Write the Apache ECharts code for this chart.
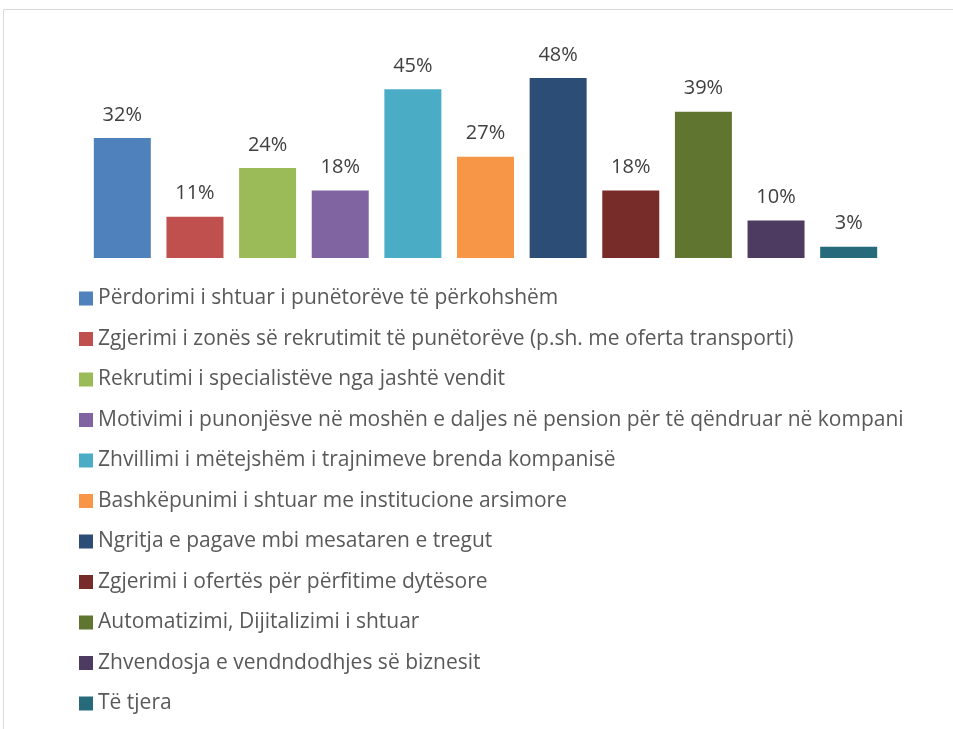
<!DOCTYPE html>
<html>
<head>
<meta charset="utf-8">
<script src="https://cdn.jsdelivr.net/npm/echarts@6/dist/echarts.min.js"></script>
<style>
  html, body { margin: 0; padding: 0; background: #fff; }
  #chart { width: 953px; height: 729px; }
</style>
</head>
<body>
<div id="chart"></div>
<script>
// te dhenat
const categories = [
  "Përdorimi i shtuar i punëtorëve të përkohshëm",
  "Zgjerimi i zonës së rekrutimit të punëtorëve (p.sh. me oferta transporti)",
  "Rekrutimi i specialistëve nga jashtë vendit",
  "Motivimi i punonjësve në moshën e daljes në pension për të qëndruar në kompani",
  "Zhvillimi i mëtejshëm i trajnimeve brenda kompanisë",
  "Bashkëpunimi i shtuar me institucione arsimore",
  "Ngritja e pagave mbi mesataren e tregut",
  "Zgjerimi i ofertës për përfitime dytësore",
  "Automatizimi, Dijitalizimi i shtuar",
  "Zhvendosja e vendndodhjes së biznesit",
  "Të tjera"
];
const values = [32, 11, 24, 18, 45, 27, 48, 18, 39, 10, 3];
const colors = ["#4F81BD", "#C0504D", "#9BBB59", "#8064A2", "#4BACC6", "#F79646",
                "#2C4D75", "#772C2A", "#5F7530", "#4D3B62", "#276A7C"];

const series = categories.map(function (name, i) {
  return {
    name: name,
    type: "bar",
    stack: "all",
    barWidth: 57,
    itemStyle: { color: colors[i] },
    label: {
      show: true,
      position: "top",
      distance: 13,
      formatter: "{c}%",
      color: "#404040",
      fontSize: 20,
      fontFamily: "Open Sans"
    },
    data: values.map(function (v, j) { return j === i ? v : "-"; })
  };
});

const myChart = echarts.init(document.getElementById("chart"));
myChart.setOption({
  animation: false,
  graphic: [{
    type: "rect",
    shape: { x: 3.5, y: 9.5, width: 1000, height: 1000 },
    style: { fill: "none", stroke: "#d9d9d9", lineWidth: 1 },
    silent: true
  }],
  grid: { left: 86, width: 799, top: 70.5, height: 187.5 },
  xAxis: {
    type: "category",
    data: categories,
    axisLine: { show: false },
    axisTick: { show: false },
    axisLabel: { show: false }
  },
  yAxis: {
    type: "value",
    min: 0,
    max: 50,
    show: false,
    splitLine: { show: false }
  },
  legend: {
    orient: "vertical",
    left: 79,
    top: 288,
    padding: 0,
    itemWidth: 14,
    itemHeight: 14,
    itemGap: 19.5,
    icon: "rect",
    textStyle: {
      color: "#595959",
      fontSize: 21,
      lineHeight: 21,
      fontFamily: "Open Sans"
    },
    data: categories
  },
  series: series
});
</script>
</body>
</html>
